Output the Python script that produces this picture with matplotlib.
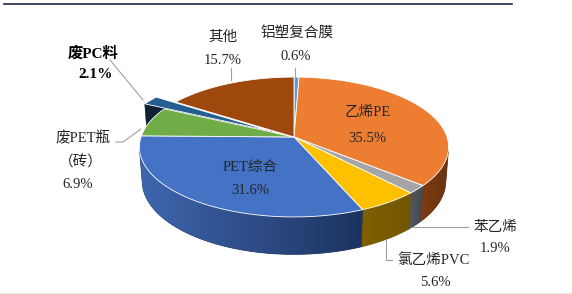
import numpy as np
import matplotlib.pyplot as plt
from matplotlib.patches import Polygon
from matplotlib.colors import to_rgb

plt.rcParams['font.family'] = ['Liberation Serif', 'Noto Sans CJK SC']

# 数据 (顺时针, 从 12 点钟开始)
labels = ["铝塑复合膜", "乙烯PE", "苯乙烯", "氯乙烯PVC", "PET综合", "废PET瓶\n（砖）", "废PC料", "其他"]
shares = [0.6, 35.5, 1.9, 5.6, 31.6, 6.9, 2.1, 15.7]
top_colors = ["#5B9BD5", "#ED7D31", "#A5A5A5", "#FFC000", "#4472C4", "#70AD47", "#255E91", "#9E480E"]
wall_light = ["#2F5F8F", "#7E3C12", "#555A60", "#806000", "#3F66AE", "#3A5E26", "#0F2136", "#5A2A08"]
wall_dark = ["#2F5F8F", "#6A3310", "#45494E", "#735600", "#1D3360", "#3A5E26", "#0F2136", "#5A2A08"]
explode = [0, 0, 0, 0, 0, 0, 0.17, 0]

# 透视投影参数
PHI = np.radians(26.6)
D = 6.25
S = 153
CX, CY = 294, 137
H = 0.25
CAM = np.array([0, -D * np.cos(PHI), D * np.sin(PHI)])


def proj(x, y, z):
    v = y * np.sin(PHI) + z * np.cos(PHI)
    w = y * np.cos(PHI) - z * np.sin(PHI)
    f = D / (D + w)
    return CX + S * x * f, CY - S * v * f


fig = plt.figure(figsize=(5.72, 2.94), dpi=100)
ax = fig.add_axes([0, 0, 1, 1])
ax.set_xlim(0, 572)
ax.set_ylim(294, 0)
ax.axis('off')

total = sum(shares)
cum = np.concatenate([[0], np.cumsum(shares)])
a_hi = np.radians(90 - 360 * cum[:-1] / total)
a_lo = np.radians(90 - 360 * cum[1:] / total)

faces = []  # (depth, pts, light, dark)
for i in range(len(shares)):
    mid = (a_hi[i] + a_lo[i]) / 2
    ox, oy = explode[i] * np.cos(mid), explode[i] * np.sin(mid)
    ts = np.linspace(a_hi[i], a_lo[i], 200)
    vis = []
    for t in ts:
        p = np.array([ox + np.cos(t), oy + np.sin(t), -H / 2])
        if np.dot([np.cos(t), np.sin(t), 0], CAM - p) > 0:
            vis.append(t)
    if len(vis) > 1:
        top = [proj(ox + np.cos(t), oy + np.sin(t), 0) for t in vis]
        bot = [proj(ox + np.cos(t), oy + np.sin(t), -H) for t in vis[::-1]]
        tm = vis[len(vis) // 2]
        p = np.array([ox + np.cos(tm), oy + np.sin(tm), -H / 2])
        faces.append((np.linalg.norm(CAM - p), top + bot, wall_light[i], wall_dark[i]))
    if explode[i] > 0:
        for ang, nrm in [(a_hi[i], (-np.sin(a_hi[i]), np.cos(a_hi[i]))),
                         (a_lo[i], (np.sin(a_lo[i]), -np.cos(a_lo[i])))]:
            p = np.array([ox + 0.5 * np.cos(ang), oy + 0.5 * np.sin(ang), -H / 2])
            if np.dot([nrm[0], nrm[1], 0], CAM - p) <= 0:
                continue
            pts = [proj(ox, oy, 0), proj(ox + np.cos(ang), oy + np.sin(ang), 0),
                   proj(ox + np.cos(ang), oy + np.sin(ang), -H), proj(ox, oy, -H)]
            faces.append((np.linalg.norm(CAM - p), pts, wall_dark[i], wall_dark[i]))

for _, pts, c1, c2 in sorted(faces, key=lambda f: -f[0]):
    poly = Polygon(pts, closed=True, facecolor=c2, edgecolor=c2, lw=0.5)
    ax.add_patch(poly)
    if c1 != c2:
        xs = np.array([p[0] for p in pts])
        ys = np.array([p[1] for p in pts])
        g = np.linspace(0, 1, 256)
        a, b = np.array(to_rgb(c1)), np.array(to_rgb(c2))
        img = (a[None, :] + (b - a)[None, :] * g[:, None])[None, :, :]
        im = ax.imshow(img, extent=[xs.min(), xs.max(), ys.max(), ys.min()],
                       aspect="auto", interpolation="bilinear", zorder=poly.get_zorder())
        im.set_clip_path(poly)

for i in range(len(shares)):
    mid = (a_hi[i] + a_lo[i]) / 2
    ox, oy = explode[i] * np.cos(mid), explode[i] * np.sin(mid)
    ts = np.linspace(a_hi[i], a_lo[i], 80)
    pts = [proj(ox, oy, 0)] + [proj(ox + np.cos(t), oy + np.sin(t), 0) for t in ts]
    ax.add_patch(Polygon(pts, closed=True, facecolor=top_colors[i],
                         edgecolor="white", lw=0.6, joinstyle="round", zorder=2))

ax.set_xlim(0, 572)
ax.set_ylim(294, 0)

# 标签
txt = dict(ha="center", va="center", fontsize=10.5, color="#262626", zorder=5)
ax.text(223, 37, "其他", **txt)
ax.text(223, 61, f"{shares[7]}%", **txt)
ax.text(297, 33, "铝塑复合膜", **txt)
ax.text(296, 57, f"{shares[0]}%", **txt)
ax.text(93, 53, "废PC料", fontweight="bold", **{**txt, "color": "black", "fontsize": 11})
ax.text(96, 75, f"{shares[6]}%", fontweight="bold", **{**txt, "color": "black", "fontsize": 11})
ax.text(83, 138, "废PET瓶", **txt)
ax.text(81, 162, "（砖）", **txt)
ax.text(78, 185, f"{shares[5]}%", **txt)
ax.text(495, 227, "苯乙烯", **txt)
ax.text(495, 249, f"{shares[2]}%", **txt)
ax.text(433, 260, "氯乙烯PVC", **txt)
ax.text(435, 282, f"{shares[3]}%", **txt)
ax.text(250, 167, "PET综合", **txt)
ax.text(250, 191, f"{shares[4]}%", **txt)
ax.text(368, 112, "乙烯PE", **txt)
ax.text(367, 139, f"{shares[1]}%", **txt)

# 引导线
lc = dict(color="#A0A0A0", lw=0.8, zorder=4)
ax.plot([231, 231], [68, 80], **lc)
ax.plot([295, 295], [68, 78], **lc)
ax.plot([110, 143], [60, 100], **lc)
ax.plot([116, 123, 141], [142, 142, 129], **lc)
ax.plot([413, 468], [227, 227], **lc)
ax.plot([386, 386, 392], [239, 260, 260], **lc)

ax.plot([4, 512], [3.5, 3.5], color="#1F2A44", lw=1.2)
ax.plot([0, 572], [293, 293], color="#EBEBEB", lw=0.8)

fig.savefig("out.png", dpi=100)
